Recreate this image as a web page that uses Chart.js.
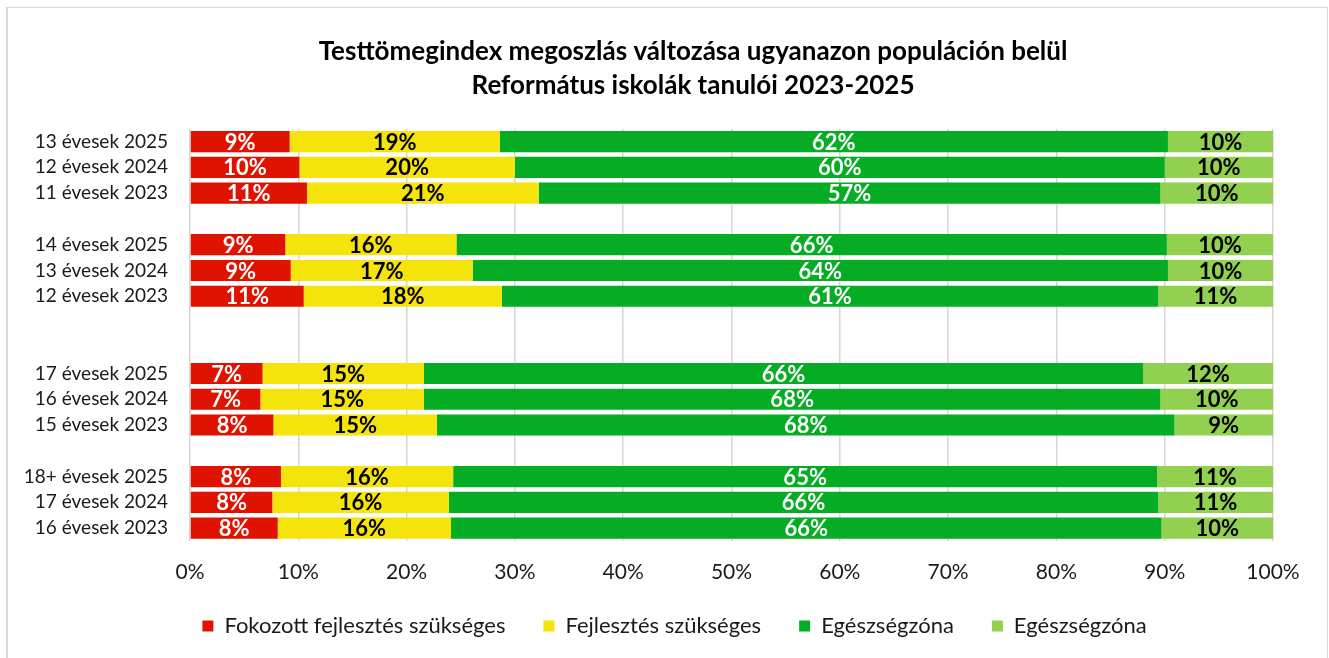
<!DOCTYPE html>
<html>
<head>
<meta charset="utf-8">
<script src="https://cdn.jsdelivr.net/npm/chart.js@4.4.1/dist/chart.umd.min.js"></script>
<style>
  html, body { margin: 0; padding: 0; background: #ffffff; }
  #wrap { position: relative; width: 1329px; height: 658px; }
</style>
</head>
<body>
<div id="wrap"><canvas id="c" width="1329" height="658"></canvas></div>
<script>
const titleLines = ['Testtömegindex megoszlás változása ugyanazon populáción belül', 'Református iskolák tanulói 2023-2025'];
const categories = ['13 évesek 2025', '12 évesek 2024', '11 évesek 2023', '',
  '14 évesek 2025', '13 évesek 2024', '12 évesek 2023', '', '',
  '17 évesek 2025', '16 évesek 2024', '15 évesek 2023', '',
  '18+ évesek 2025', '17 évesek 2024', '16 évesek 2023'];
const seriesNames = ['Fokozott fejlesztés szükséges', 'Fejlesztés szükséges', 'Egészségzóna', 'Egészségzóna'];
const fokozott = [9.2, 10.1, 10.8, null, 8.8, 9.3, 10.5, null, null, 6.7, 6.5, 7.7, null, 8.4, 7.6, 8.1];
const fejlesztes = [19.4, 19.9, 21.4, null, 15.8, 16.8, 18.3, null, null, 14.9, 15.1, 15.1, null, 15.9, 16.3, 16.0];
const egeszseg1 = [61.7, 60.0, 57.4, null, 65.6, 64.2, 60.6, null, null, 66.4, 68.0, 68.1, null, 65.0, 65.5, 65.6];
const egeszseg2 = [9.7, 10.0, 10.4, null, 9.8, 9.7, 10.6, null, null, 12.0, 10.4, 9.1, null, 10.7, 10.6, 10.3];
const xTicks = [0, 10, 20, 30, 40, 50, 60, 70, 80, 90, 100];

const colors = ['#e01200', '#f5e40c', '#05ac24', '#92d050'];
const labelColors = ['#ffffff', '#000000', '#ffffff', '#000000'];
const FONT = 'Lato';
const LEGEND_SHIFT_X = 33;
const LEGEND_SHIFT_Y = -8;
const TITLE_SHIFT_X = 51.5;

const dataLabelPlugin = {
  id: 'dataLabels',
  afterDatasetsDraw(chart) {
    const ctx = chart.ctx;
    ctx.save();
    ctx.font = 'bold 22px ' + FONT;
    ctx.textAlign = 'center';
    ctx.textBaseline = 'middle';
    chart.data.datasets.forEach((ds, di) => {
      const meta = chart.getDatasetMeta(di);
      meta.data.forEach((el, i) => {
        const v = ds.data[i];
        if (v === null || v === undefined) return;
        const cx = (el.x + el.base) / 2;
        ctx.fillStyle = labelColors[di];
        ctx.fillText(Math.round(v) + '%', cx, el.y + 1);
      });
    });
    ctx.restore();
  }
};

const framePlugin = {
  id: 'frame',
  beforeDraw(chart) {
    const ctx = chart.ctx;
    ctx.save();
    ctx.fillStyle = '#ffffff';
    ctx.fillRect(0, 0, chart.width, chart.height);
    ctx.fillStyle = '#d9d9d9';
    ctx.fillRect(6, 7, 2, chart.height - 7);
    ctx.fillRect(6, 7, chart.width - 7, 1);
    ctx.fillRect(chart.width - 2, 7, 1, chart.height - 7);
    ctx.restore();
  }
};

const shiftPlugin = {
  id: 'shiftBoxes',
  afterLayout(chart) {
    if (chart.legend) {
      chart.legend.left += LEGEND_SHIFT_X;
      chart.legend.right += LEGEND_SHIFT_X;
      chart.legend.top += LEGEND_SHIFT_Y;
      chart.legend.bottom += LEGEND_SHIFT_Y;
    }
    if (chart.titleBlock) {
      chart.titleBlock.left += TITLE_SHIFT_X;
      chart.titleBlock.right += TITLE_SHIFT_X;
    }
  }
};

function build() {
  const datasets = [fokozott, fejlesztes, egeszseg1, egeszseg2].map((arr, i) => ({
    label: seriesNames[i],
    data: arr,
    backgroundColor: colors[i],
    borderWidth: 0,
    barPercentage: 0.82,
    categoryPercentage: 1.0
  }));

  new Chart(document.getElementById('c'), {
    type: 'bar',
    data: { labels: categories, datasets },
    options: {
      indexAxis: 'y',
      responsive: false,
      animation: false,
      events: [],
      layout: { padding: { left: 10, right: 56, top: 7, bottom: 3 } },
      scales: {
        x: {
          stacked: true,
          min: 0,
          max: 100,
          afterBuildTicks(scale) { scale.ticks = xTicks.map(v => ({ value: v })); },
          afterFit(scale) { scale.height = 44; },
          grid: { color: '#d6d6d6', lineWidth: 1.5, drawTicks: false },
          border: { display: false },
          ticks: {
            padding: 19,
            color: '#1a1a1a',
            font: { family: FONT, size: 21 },
            callback: (v) => v + '%'
          }
        },
        y: {
          stacked: true,
          afterFit(scale) { scale.width = 180; },
          grid: { display: false, drawTicks: false },
          border: { display: false },
          ticks: {
            padding: 22,
            autoSkip: false,
            color: '#1a1a1a',
            font: { family: FONT, size: 19 }
          }
        }
      },
      plugins: {
        title: {
          display: true,
          text: titleLines,
          color: '#000000',
          font: { family: FONT, size: 26, weight: 'bold', lineHeight: 1.31 },
          padding: { top: 28, bottom: 25.6 }
        },
        legend: {
          display: true,
          position: 'bottom',
          labels: {
            boxWidth: 11,
            boxHeight: 11,
            padding: 38,
            color: '#1a1a1a',
            font: { family: FONT, size: 22 }
          }
        },
        tooltip: { enabled: false }
      }
    },
    plugins: [framePlugin, dataLabelPlugin, shiftPlugin]
  });
}

if (document.fonts && document.fonts.load) {
  Promise.all([
    document.fonts.load('19px ' + FONT),
    document.fonts.load('21px ' + FONT),
    document.fonts.load('22px ' + FONT),
    document.fonts.load('bold 22px ' + FONT),
    document.fonts.load('bold 26px ' + FONT)
  ]).then(build, build);
} else {
  build();
}
</script>
</body>
</html>
